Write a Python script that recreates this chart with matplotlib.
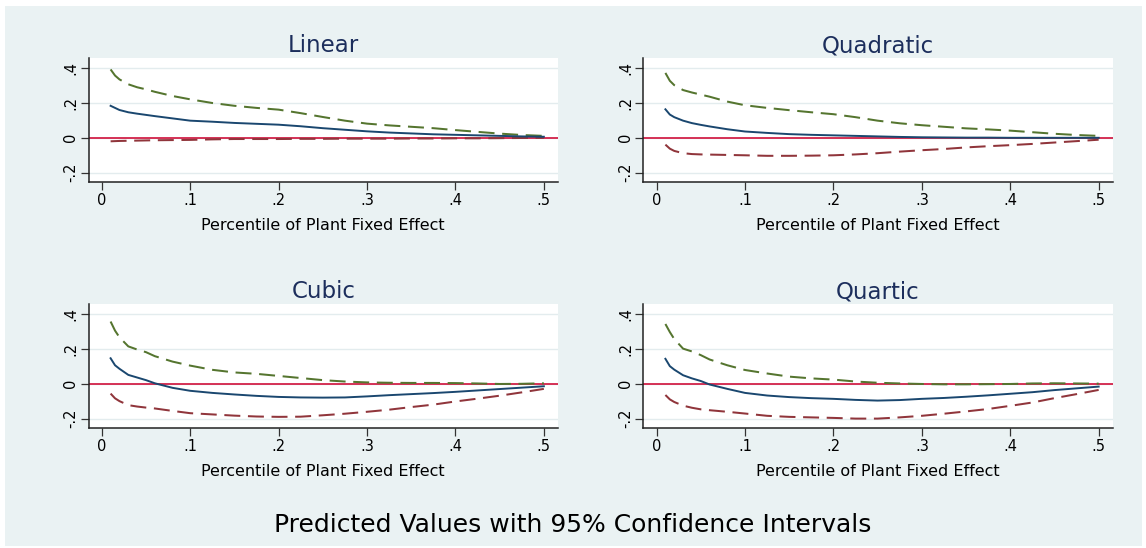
import matplotlib
matplotlib.use("Agg")
import matplotlib.pyplot as plt
from matplotlib.patches import Rectangle

# Percentile grid of the plant fixed effect
pct = [0.01, 0.015, 0.02, 0.03, 0.04, 0.05, 0.06, 0.08, 0.10, 0.125, 0.15, 0.175,
       0.20, 0.225, 0.25, 0.275, 0.30, 0.325, 0.35, 0.375, 0.40, 0.425, 0.45, 0.475, 0.50]

# Linear specification
lin_fit = [0.182, 0.170, 0.158, 0.145, 0.137, 0.130, 0.123, 0.110, 0.097, 0.091, 0.084, 0.079,
           0.074, 0.065, 0.054, 0.045, 0.036, 0.029, 0.024, 0.019, 0.016, 0.013, 0.010, 0.007, 0.005]
lin_hi = [0.390, 0.355, 0.333, 0.305, 0.288, 0.276, 0.262, 0.238, 0.219, 0.198, 0.182, 0.170,
          0.160, 0.140, 0.118, 0.097, 0.080, 0.070, 0.062, 0.054, 0.043, 0.033, 0.023, 0.015, 0.010]
lin_lo = [-0.021, -0.020, -0.019, -0.018, -0.017, -0.016, -0.015, -0.014, -0.013, -0.010, -0.008, -0.008,
          -0.008, -0.007, -0.007, -0.006, -0.006, -0.006, -0.005, -0.005, -0.004, -0.004, -0.003, -0.002, -0.001]

# Quadratic specification
quad_fit = [0.162, 0.132, 0.117, 0.097, 0.083, 0.073, 0.064, 0.048, 0.035, 0.027, 0.020, 0.016,
            0.013, 0.010, 0.007, 0.004, 0.002, 0.001, 0.000, 0.000, -0.001, -0.001, -0.001, -0.001, -0.001]
quad_hi = [0.370, 0.325, 0.300, 0.272, 0.258, 0.246, 0.234, 0.206, 0.185, 0.170, 0.157, 0.145,
           0.134, 0.117, 0.097, 0.082, 0.071, 0.062, 0.053, 0.047, 0.040, 0.031, 0.022, 0.015, 0.010]
quad_lo = [-0.040, -0.063, -0.076, -0.089, -0.094, -0.096, -0.097, -0.099, -0.101, -0.104, -0.104, -0.103,
           -0.101, -0.096, -0.089, -0.080, -0.072, -0.065, -0.056, -0.049, -0.043, -0.036, -0.028, -0.020, -0.012]

# Cubic specification
cub_fit = [0.145, 0.105, 0.085, 0.050, 0.035, 0.020, 0.002, -0.024, -0.041, -0.053, -0.062, -0.070,
           -0.076, -0.079, -0.080, -0.079, -0.073, -0.066, -0.060, -0.054, -0.047, -0.039, -0.031, -0.023, -0.015]
cub_hi = [0.355, 0.303, 0.265, 0.213, 0.195, 0.180, 0.157, 0.126, 0.103, 0.079, 0.064, 0.056,
          0.044, 0.032, 0.020, 0.012, 0.007, 0.005, 0.004, 0.004, 0.003, 0.001, -0.002, -0.001, 0.002]
cub_lo = [-0.057, -0.084, -0.100, -0.123, -0.131, -0.137, -0.142, -0.156, -0.169, -0.176, -0.183, -0.188,
          -0.190, -0.189, -0.181, -0.172, -0.161, -0.149, -0.134, -0.120, -0.102, -0.086, -0.069, -0.050, -0.030]

# Quartic specification
qrt_fit = [0.142, 0.100, 0.080, 0.048, 0.030, 0.015, -0.005, -0.030, -0.053, -0.068, -0.077, -0.083,
           -0.087, -0.093, -0.097, -0.094, -0.087, -0.082, -0.075, -0.067, -0.058, -0.049, -0.037, -0.027, -0.017]
qrt_hi = [0.341, 0.295, 0.255, 0.200, 0.184, 0.163, 0.138, 0.105, 0.078, 0.058, 0.040, 0.030,
          0.023, 0.012, 0.005, 0.001, -0.002, -0.004, -0.004, -0.003, -0.002, 0.001, 0.002, 0.001, 0.000]
qrt_lo = [-0.065, -0.090, -0.105, -0.126, -0.138, -0.147, -0.152, -0.161, -0.171, -0.184, -0.190, -0.193,
          -0.196, -0.200, -0.200, -0.193, -0.184, -0.172, -0.159, -0.145, -0.127, -0.108, -0.083, -0.060, -0.036]

titles = ["Linear", "Quadratic", "Cubic", "Quartic"]
fits = [lin_fit, quad_fit, cub_fit, qrt_fit]
highs = [lin_hi, quad_hi, cub_hi, qrt_hi]
lows = [lin_lo, quad_lo, cub_lo, qrt_lo]

xticks = [0, 0.1, 0.2, 0.3, 0.4, 0.5]
xticklabels = ["0", ".1", ".2", ".3", ".4", ".5"]
yticks = [-0.2, 0, 0.2, 0.4]
yticklabels = ["-.2", "0", ".2", ".4"]
xlabel = "Percentile of Plant Fixed Effect"
caption = "Predicted Values with 95% Confidence Intervals"

plt.rcParams["font.family"] = ["DejaVu Sans"]
plt.rcParams["lines.scale_dashes"] = False

BG = "#EAF2F3"
NAVY = "#1A476F"
GREEN = "#55752F"
MAROON = "#90353B"
ZERO = "#D0103A"
TITLE = "#1C2E5C"

W, H = 1146, 548
fig = plt.figure(figsize=(W / 100, H / 100), dpi=100, facecolor="white")
# graph region background, drawn beneath the panels
fig.patches.append(Rectangle((5 / W, 2 / H), (1142 - 5) / W, (546 - 6) / H,
                             transform=fig.transFigure, facecolor=BG,
                             edgecolor="none", zorder=-10))

lefts = [88.5, 643.3]
bottoms = [181.7, 427.7]
aw, ah = 469.5, 124.0

for i, title in enumerate(titles):
    r, c = divmod(i, 2)
    ax = fig.add_axes([lefts[c] / W, 1 - bottoms[r] / H, aw / W, ah / H])
    ax.set_zorder(1)
    ax.set_facecolor("white")
    ax.set_xlim(-0.015, 0.516)
    ax.set_ylim(-0.252, 0.457)

    for yv in yticks:
        ax.axhline(yv, color="#E3ECEE", lw=1.0, zorder=1)
    ax.axhline(0, color=ZERO, lw=1.2, zorder=2)

    ax.plot(pct, highs[i], color=GREEN, lw=1.45, ls=(0, (11.5, 5.5)), zorder=3)
    ax.plot(pct, lows[i], color=MAROON, lw=1.45, ls=(0, (11.5, 5.5)), zorder=3)
    ax.plot(pct, fits[i], color=NAVY, lw=1.4, zorder=4)

    ax.set_xticks(xticks)
    ax.set_xticklabels(xticklabels)
    ax.set_yticks(yticks)
    ax.set_yticklabels(yticklabels, rotation=90, va="center")
    ax.tick_params(axis="both", direction="out", length=6, width=0.9,
                   color="#333333", labelsize=10.5, labelcolor="black")
    ax.tick_params(axis="x", pad=2)
    ax.tick_params(axis="y", pad=1.5)

    for side in ("top", "right"):
        ax.spines[side].set_visible(False)
    for side in ("left", "bottom"):
        ax.spines[side].set_color("#222222")
        ax.spines[side].set_linewidth(1.1)

    ax.set_xlabel(xlabel, fontsize=11.5, color="black", labelpad=7)
    ax.set_title(title, fontsize=16.5, color=TITLE, pad=4)

fig.text(0.5, 1 - 524.5 / H, caption, ha="center", va="center",
         fontsize=18, color="black")

fig.savefig("out.png", dpi=100, facecolor=fig.get_facecolor())
